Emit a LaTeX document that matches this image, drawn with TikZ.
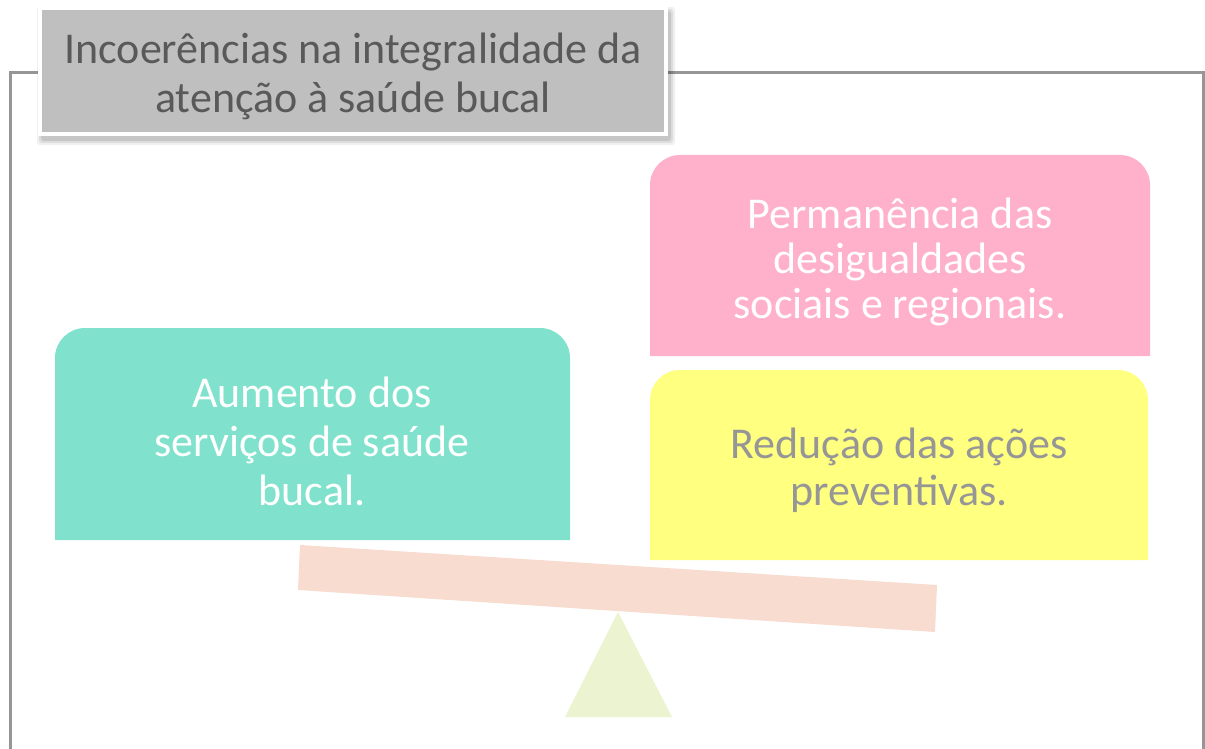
\documentclass[tikz,border=0pt]{standalone}
\usepackage{fontspec}
\setmainfont{Carlito}
\definecolor{titlefill}{RGB}{191,191,191}
\definecolor{titletext}{RGB}{89,89,89}
\definecolor{framec}{RGB}{150,150,150}
\definecolor{pinkc}{RGB}{255,176,202}
\definecolor{yellowc}{RGB}{255,255,128}
\definecolor{tealc}{RGB}{128,226,204}
\definecolor{plankc}{RGB}{248,220,208}
\definecolor{trianglec}{RGB}{235,243,208}
\definecolor{graytext}{RGB}{150,150,150}
\tikzset{
  boxtext/.style={align=center, inner sep=0pt, font=\fontsize{44}{47}\selectfont},
  framestyle/.style={draw=framec, line width=3pt},
}
\begin{document}
\begin{tikzpicture}[x=1pt,y=-1pt]
\useasboundingbox (0,0) rectangle (1205,749);
% frame
\draw[framestyle] (40,73) -- (10,73) -- (10,760);
\draw[framestyle] (665,73) -- (1203,73) -- (1203,760);
% title shadow
\foreach \i/\o in {6/0.06,4/0.08,2/0.10}{
  \fill[black,opacity=\o,rounded corners=3] (40-\i+3,8-\i+5) rectangle (666+\i+3,134+\i+5);
}
\fill[titlefill] (40,8) rectangle (666,134);
\draw[white,line width=4pt] (40,8) rectangle (666,134);
\node[boxtext, text=titletext, font=\fontsize{44}{49}\selectfont] (title) at (353,76) {Incoerências na integralidade da\\atenção à saúde bucal};
% pink box
\fill[pinkc] (650,356) -- (650,185) arc[start angle=180,end angle=270,radius=30] -- (1120,155) arc[start angle=270,end angle=360,radius=30] -- (1150,356) -- cycle;
\node[boxtext, text=white, font=\fontsize{44}{45}\selectfont] (pink) at (900,262) {Permanência das\\desigualdades\\sociais e regionais.};
% yellow box
\fill[yellowc] (650,560) -- (650,400) arc[start angle=180,end angle=270,radius=30] -- (1118,370) arc[start angle=270,end angle=360,radius=30] -- (1148,560) -- cycle;
\node[boxtext, text=graytext] (yellow) at (899,470) {Redução das ações\\preventivas.};
% teal box
\fill[tealc] (55,540) -- (55,358) arc[start angle=180,end angle=270,radius=30] -- (540,328) arc[start angle=270,end angle=360,radius=30] -- (570,540) -- cycle;
\node[boxtext, text=white, font=\fontsize{44}{49}\selectfont] (teal) at (312,441) {Aumento dos\\serviços de saúde\\bucal.};
% fulcrum and plank
\fill[trianglec] (618,612) -- (672,717) -- (565,717) -- cycle;
\fill[plankc] (300,545) -- (937,585) -- (935,632) -- (298,590) -- cycle;
\end{tikzpicture}
\end{document}
